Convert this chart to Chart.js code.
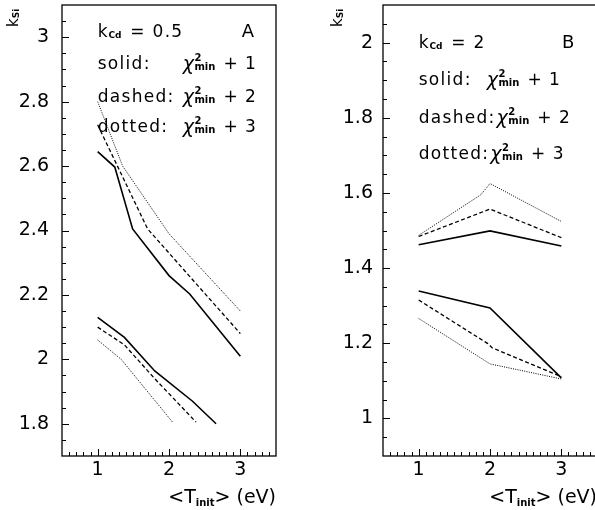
<!DOCTYPE html>
<html><head><meta charset="utf-8">
<script src="https://cdn.jsdelivr.net/npm/chart.js@4/dist/chart.umd.min.js"></script>
<style>
html,body{margin:0;padding:0;background:#fff;overflow:hidden;width:595px;height:510px;position:relative;}
canvas{position:absolute;top:0;}
#cA{left:0px}
#cB{left:321px}
</style></head><body>
<canvas id="cA" width="290" height="510"></canvas>
<canvas id="cB" width="290" height="510"></canvas>
<script>
// ---------- ticks ----------
const xTicks = [1, 2, 3];
const yTicksA = [1.8, 2, 2.2, 2.4, 2.6, 2.8, 3];
const yTicksB = [1, 1.2, 1.4, 1.6, 1.8, 2];

// ---------- Panel A data (k_Cd = 0.5) ----------
const aSolidHiT = [1, 1.24, 1.49, 2.0, 2.29, 3.0];
const aSolidHiK = [2.645, 2.597, 2.405, 2.26, 2.203, 2.01];
const aDashedHiT = [1, 1.7, 3.0];
const aDashedHiK = [2.728, 2.405, 2.08];
const aDottedHiT = [1, 1.35, 2.0, 3.0];
const aDottedHiK = [2.8, 2.60, 2.39, 2.15];
const aSolidLoT = [1, 1.375, 1.8, 2.33, 2.66];
const aSolidLoK = [2.13, 2.068, 1.964, 1.87, 1.80];
const aDashedLoT = [1, 1.375, 1.8, 2.38];
const aDashedLoK = [2.1, 2.045, 1.94, 1.805];
const aDottedLoT = [1, 1.33, 2.05];
const aDottedLoK = [2.06, 2.0, 1.805];

// ---------- Panel B data (k_Cd = 2) ----------
const bSolidHiT = [1, 2, 3];
const bSolidHiK = [1.462, 1.499, 1.459];
const bDashedHiT = [1, 2, 3];
const bDashedHiK = [1.484, 1.557, 1.481];
const bDottedHiT = [1, 1.87, 2, 3];
const bDottedHiK = [1.487, 1.595, 1.625, 1.524];
const bSolidLoT = [1, 2, 3];
const bSolidLoK = [1.339, 1.294, 1.108];
const bDashedLoT = [1, 1.97, 2.03, 3];
const bDashedLoK = [1.315, 1.199, 1.188, 1.111];
const bDottedLoT = [1, 2, 3];
const bDottedLoK = [1.266, 1.145, 1.105];

const FAM = '"DejaVu Sans", sans-serif';
const STYLES = {
  solid:  {borderWidth: 1.6, borderDash: []},
  dashed: {borderWidth: 1.3, borderDash: [4, 2.5]},
  dotted: {borderWidth: 1.0, borderDash: [1, 1.3]}
};

function ds(ts, ks, style) {
  return Object.assign({
    data: ts.map((t, i) => ({x: t, y: ks[i]})),
    borderColor: '#000', pointRadius: 0, fill: false, tension: 0,
    showLine: true, borderCapStyle: 'butt'
  }, STYLES[style]);
}

function chiPart(ctx, x, y, n) {
  ctx.letterSpacing = '0px';
  ctx.font = 'italic 19px ' + FAM;
  ctx.fillText('\u03c7', x, y + 1);
  x += ctx.measureText('\u03c7').width + 0.5;
  ctx.font = 'bold 10px ' + FAM;
  ctx.fillText('2', x, y - 8);
  const w1 = ctx.measureText('2').width;
  ctx.fillText('min', x, y + 1);
  const w2 = ctx.measureText('min').width;
  x += Math.max(w1, w2) + 8;
  ctx.font = '17px ' + FAM;
  ctx.letterSpacing = '1px';
  ctx.fillText('+ ' + n, x, y);
}

function makePanel(id, o) {
  const annot = {
    id: 'annot',
    afterDraw(chart) {
      const ctx = chart.ctx, ca = chart.chartArea;
      const xs = chart.scales.x, ys = chart.scales.y;
      ctx.save();
      ctx.strokeStyle = '#000'; ctx.fillStyle = '#000';
      ctx.lineWidth = 1.3;
      ctx.strokeRect(ca.left, ca.top, ca.right - ca.left, ca.bottom - ca.top);
      ctx.lineWidth = 1;
      for (let v = 6; v <= 34; v++) {
        const px = Math.round(xs.getPixelForValue(v / 10)) + 0.5;
        const len = (v % 10 === 0) ? 7 : 4;
        ctx.beginPath(); ctx.moveTo(px, ca.bottom); ctx.lineTo(px, ca.bottom - len); ctx.stroke();
      }
      for (let v = Math.round(o.ymin * 20) + 1; v < Math.round(o.ymax * 20); v++) {
        const py = Math.round(ys.getPixelForValue(v / 20)) + 0.5;
        const len = (v % 4 === 0) ? 7 : 4;
        ctx.beginPath(); ctx.moveTo(ca.left, py); ctx.lineTo(ca.left + len, py); ctx.stroke();
      }
      ctx.textBaseline = 'alphabetic';
      ctx.textAlign = 'left';
      const x0 = xs.getPixelForValue(1);
      let y = ys.getPixelForValue(o.textY[0]);
      ctx.font = '17px ' + FAM; ctx.letterSpacing = '1px';
      ctx.fillText('k', x0, y);
      let x = x0 + ctx.measureText('k').width;
      ctx.font = 'bold 9px ' + FAM; ctx.letterSpacing = '0px';
      ctx.fillText('Cd', x, y + 1);
      x += ctx.measureText('Cd').width + 2;
      ctx.font = '17px ' + FAM; ctx.letterSpacing = '1.3px';
      ctx.fillText(' = ' + o.kcd, x, y);
      ctx.letterSpacing = '0px';
      ctx.font = '18px ' + FAM;
      ctx.fillText(o.tag, xs.getPixelForValue(o.tagX), y);
      const words = ['solid:', 'dashed:', 'dotted:'];
      for (let i = 0; i < 3; i++) {
        y = ys.getPixelForValue(o.textY[i + 1]);
        ctx.font = '17px ' + FAM; ctx.letterSpacing = '1.3px';
        ctx.fillText(words[i], x0, y);
        const wEnd = x0 + ctx.measureText(words[i]).width;
        chiPart(ctx, Math.max(x0 + o.chiOff, wEnd + 1), y, i + 1);
      }
      ctx.save();
      ctx.translate(o.yTitleX, 27);
      ctx.rotate(-Math.PI / 2);
      ctx.letterSpacing = '0px';
      ctx.font = '15px ' + FAM;
      ctx.fillText('k', 0, 0);
      const wk = ctx.measureText('k').width;
      ctx.font = 'bold 9px ' + FAM;
      ctx.fillText('Si', wk, 1);
      ctx.restore();
      ctx.letterSpacing = '0px';
      const parts = [
        {t: '<', f: '19px ' + FAM, dy: 0},
        {t: 'T', f: '19px ' + FAM, dy: 0},
        {t: 'init', f: 'bold 10px ' + FAM, dy: 3},
        {t: '> (eV)', f: '19px ' + FAM, dy: 0}
      ];
      let tw = 0;
      for (const p of parts) { ctx.font = p.f; tw += ctx.measureText(p.t).width; }
      x = ca.right - tw;
      for (const p of parts) { ctx.font = p.f; ctx.fillText(p.t, x, 503 + p.dy); x += ctx.measureText(p.t).width; }
      ctx.restore();
    }
  };
  return new Chart(document.getElementById(id), {
    type: 'line',
    data: {datasets: o.datasets},
    options: {
      responsive: false, animation: false, events: [],
      layout: {padding: {top: 5, right: 14, left: 0, bottom: 0}},
      plugins: {legend: {display: false}, tooltip: {enabled: false}},
      scales: {
        x: {
          type: 'linear', min: 0.5, max: 3.5,
          afterBuildTicks: s => { s.ticks = xTicks.map(v => ({value: v})); },
          afterFit: s => { s.height = 54; s.paddingLeft = 0; s.paddingRight = 0; },
          grid: {display: false, drawTicks: false}, border: {display: false},
          ticks: {color: '#000', font: {family: FAM, size: 19}, padding: 3, maxRotation: 0, autoSkip: false,
                  callback: v => String(v)}
        },
        y: {
          type: 'linear', min: o.ymin, max: o.ymax,
          afterBuildTicks: s => { s.ticks = o.yTicks.map(v => ({value: v})); },
          afterFit: s => { s.width = 62; s.paddingTop = 0; s.paddingBottom = 0; },
          grid: {display: false, drawTicks: false}, border: {display: false},
          ticks: {color: '#000', font: {family: FAM, size: 19}, padding: o.yPad, autoSkip: false,
                  callback: v => String(Math.round(v * 10) / 10)}
        }
      }
    },
    plugins: [annot]
  });
}

makePanel('cA', {
  ymin: 1.7, ymax: 3.1, yTicks: yTicksA, yPad: 13, kcd: '0.5', tag: 'A', tagX: 3.02,
  textY: [3.0, 2.9, 2.8, 2.705], chiOff: 85, yTitleX: 18,
  datasets: [
    ds(aSolidHiT, aSolidHiK, 'solid'), ds(aDashedHiT, aDashedHiK, 'dashed'), ds(aDottedHiT, aDottedHiK, 'dotted'),
    ds(aSolidLoT, aSolidLoK, 'solid'), ds(aDashedLoT, aDashedLoK, 'dashed'), ds(aDottedLoT, aDottedLoK, 'dotted')
  ]
});
makePanel('cB', {
  ymin: 0.9, ymax: 2.1, yTicks: yTicksB, yPad: 10, kcd: '2', tag: 'B', tagX: 3.01,
  textY: [1.985, 1.887, 1.787, 1.689], chiOff: 68, yTitleX: 21,
  datasets: [
    ds(bSolidHiT, bSolidHiK, 'solid'), ds(bDashedHiT, bDashedHiK, 'dashed'), ds(bDottedHiT, bDottedHiK, 'dotted'),
    ds(bSolidLoT, bSolidLoK, 'solid'), ds(bDashedLoT, bDashedLoK, 'dashed'), ds(bDottedLoT, bDottedLoK, 'dotted')
  ]
});
</script>
</body></html>
